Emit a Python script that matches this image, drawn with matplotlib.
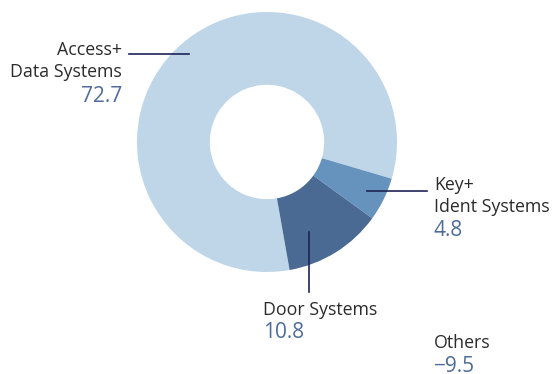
import matplotlib
matplotlib.use('Agg')
import matplotlib.pyplot as plt

# segment data (Others is negative, shown only as a label)
segments = ['Access+\nData Systems', 'Key+\nIdent Systems', 'Door Systems']
values = [72.7, 4.8, 10.8]
colors = ['#bed6e8', '#6593bd', '#4a6a94']
others_label = 'Others'
others_value = -9.5

W, H = 554, 374
cx, cy, R = 267, 142, 130

plt.rcParams['font.family'] = ['Open Sans', 'DejaVu Sans']

fig = plt.figure(figsize=(W / 100, H / 100), dpi=100)
ax = fig.add_axes([(cx - R) / W, 1 - (cy + R) / H, 2 * R / W, 2 * R / H])
ax.pie(values, colors=colors, startangle=280, counterclock=False,
       radius=1, wedgeprops=dict(width=0.56, linewidth=0))
ax.set_xlim(-1, 1)
ax.set_ylim(-1, 1)
ax.axis('off')


def d(px, py):
    return (px - cx) / R, (cy - py) / R


line_color = '#1c2455'
for (x0, y0), (x1, y1) in [((129, 54), (189, 54)),
                           ((367, 191), (427, 191)),
                           ((309, 232), (309, 292))]:
    a, b = d(x0, y0)
    c, e = d(x1, y1)
    ax.plot([a, c], [b, e], color=line_color, lw=1.2, clip_on=False)

label_color = '#2b2b2b'
value_color = '#4e6c9a'


def t(px, py, s, color, size, ha):
    fig.text(px / W, 1 - py / H, s, color=color, fontsize=size, ha=ha, va='center')


lab_fs, val_fs = 12.8, 15
# Access + Data Systems
l1, l2 = segments[0].split('\n')
t(122, 50, l1, label_color, lab_fs, 'right')
t(122, 72, l2, label_color, lab_fs, 'right')
t(122, 96, f'{values[0]:.1f}', value_color, val_fs, 'right')
# Key + Ident Systems
l1, l2 = segments[1].split('\n')
t(434, 185, l1, label_color, lab_fs, 'left')
t(434, 207, l2, label_color, lab_fs, 'left')
t(434, 231, f'{values[1]:.1f}', value_color, val_fs, 'left')
# Door Systems
t(263, 310, segments[2], label_color, lab_fs, 'left')
t(263, 333, f'{values[2]:.1f}', value_color, val_fs, 'left')
# Others
t(434, 343, others_label, label_color, lab_fs, 'left')
t(434, 367, f'\u2212{abs(others_value):.1f}', value_color, val_fs, 'left')

fig.savefig('out.png', dpi=100, facecolor='white')
